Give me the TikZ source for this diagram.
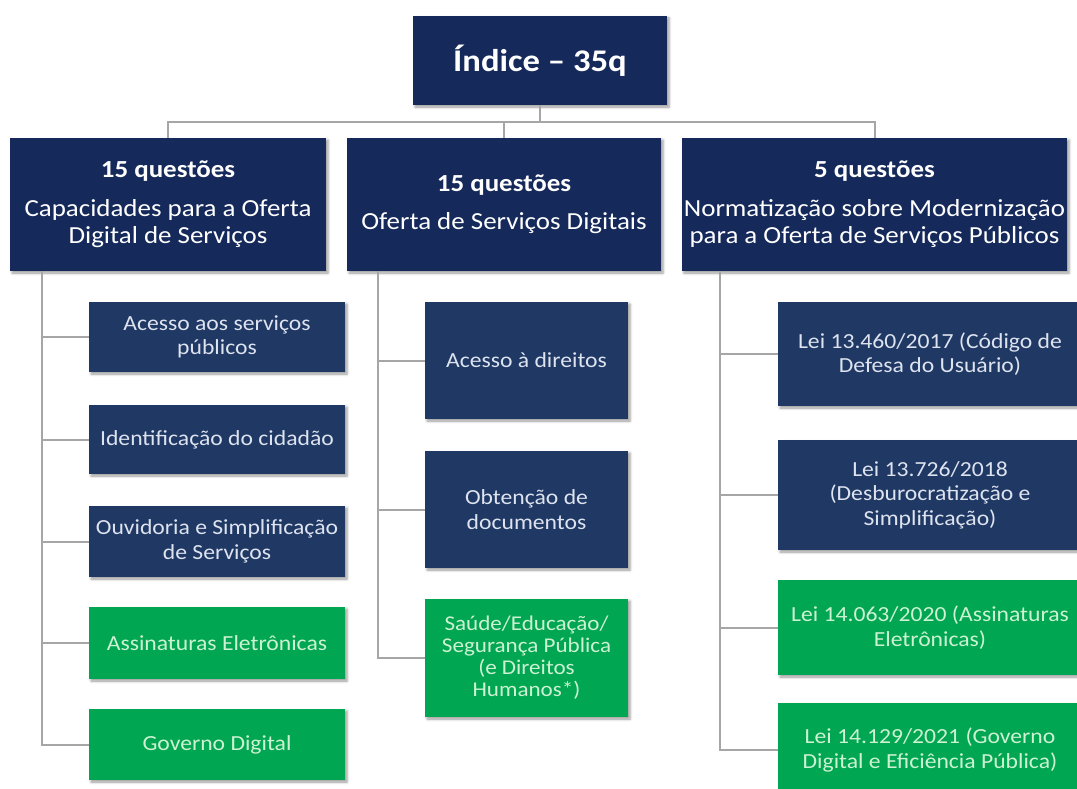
\documentclass[tikz,border=0pt]{standalone}
\usepackage{fontspec}
\setmainfont[FakeStretch=1.1]{Carlito}
\usepackage{tikz}
\usetikzlibrary{positioning,calc,shadows.blur}

\definecolor{navytop}{HTML}{15295A}
\definecolor{navybox}{HTML}{203864}
\definecolor{greenbox}{HTML}{00A651}
\definecolor{navytxt}{HTML}{DDE3EF}
\definecolor{greentxt}{HTML}{CDF2D2}
\definecolor{linegray}{HTML}{A6A6A6}

\begin{document}
\begin{tikzpicture}[x=1pt, y=-1pt,
    box/.style={rectangle, inner sep=2pt, align=center,
        blur shadow={shadow xshift=2pt, shadow yshift=-2pt, shadow blur radius=2.5pt, shadow opacity=40}},
    headbox/.style={box, fill=navytop, text=white, font=\fontsize{24.5}{27}\selectfont, minimum height=133pt},
    navyitem/.style={box, fill=navybox, text=navytxt, font=\fontsize{21.5}{24.5}\selectfont},
    greenitem/.style={box, fill=greenbox, text=greentxt, font=\fontsize{21.5}{24.5}\selectfont},
    conn/.style={draw=linegray, line width=2pt}]
    \clip (0,0) rectangle (1077,789);

    % index
    \node[box, fill=navytop, text=white, font=\bfseries\fontsize{31.5}{36}\selectfont,
        minimum width=254pt, minimum height=89pt] (idx) at (540,60.5) {Índice – 35q};

    % the three groups
    \node[headbox, minimum width=316pt] (cap) at (168,204.5)
        {\textbf{15 questões}\\[12pt]Capacidades para a Oferta\\Digital de Serviços};
    \node[headbox, minimum width=314pt] (ofe) at (504,204.5)
        {\textbf{15 questões}\\[11pt]Oferta de Serviços Digitais};
    \node[headbox, minimum width=385pt] (nor) at (874.5,204.5)
        {\textbf{5 questões}\\[12pt]Normatização sobre Modernização\\para a Oferta de Serviços Públicos};

    \coordinate (bus) at ($(idx.south)+(0,17)$);
    \draw[conn] (idx.south) -- (bus);
    \draw[conn] (cap.north) |- (bus) -| (nor.north);
    \draw[conn] (ofe.north) -- (ofe.north |- bus);

    % Capacidades
    \node[navyitem, minimum width=256pt, minimum height=70pt] (l1) at (217,337) {Acesso aos serviços\\públicos};
    \node[navyitem, minimum width=256pt, minimum height=69pt] (l2) at (217,439.5) {Identificação do cidadão};
    \node[navyitem, minimum width=256pt, minimum height=71pt] (l3) at (217,541.5) {Ouvidoria e Simplificação\\de Serviços};
    \node[greenitem, minimum width=256pt, minimum height=72pt] (l4) at (217,643) {Assinaturas Eletrônicas};
    \node[greenitem, minimum width=256pt, minimum height=71pt] (l5) at (217,744.5) {Governo Digital};

    % Oferta
    \node[navyitem, minimum width=203pt, minimum height=117pt] (m1) at (526.5,360.5) {Acesso à direitos};
    \node[navyitem, minimum width=203pt, minimum height=117pt] (m2) at (526.5,509.5) {Obtenção de\\documentos};
    \node[greenitem, minimum width=203pt, minimum height=118pt, font=\fontsize{21}{22}\selectfont]
        (m3) at (526.5,658) {Saúde/Educação/\\Segurança Pública\\(e Direitos\\Humanos*)};

    % Normatizacao
    \node[navyitem, minimum width=304pt, minimum height=104pt] (r1) at (930,354) {Lei 13.460/2017 (Código de\\Defesa do Usuário)};
    \node[navyitem, minimum width=304pt, minimum height=110pt] (r2) at (930,495) {Lei 13.726/2018\\(Desburocratização e\\Simplificação)};
    \node[greenitem, minimum width=304pt, minimum height=95pt] (r3) at (930,627.5) {Lei 14.063/2020 (Assinaturas\\Eletrônicas)};
    \node[greenitem, minimum width=304pt, minimum height=94pt] (r4) at (930,750) {Lei 14.129/2021 (Governo\\Digital e Eficiência Pública)};

    % trunks
    \coordinate (lt) at ($(cap.south west)+(32,0)$);
    \coordinate (mt) at ($(ofe.south west)+(31,0)$);
    \coordinate (rt) at ($(nor.south west)+(38,0)$);
    \foreach \c in {l1,l2,l3,l4,l5}
        \draw[conn] (lt) |- (\c.west);
    \foreach \c in {m1,m2,m3}
        \draw[conn] (mt) |- (\c.west);
    \foreach \c in {r1,r2,r3,r4}
        \draw[conn] (rt) |- (\c.west);
\end{tikzpicture}
\end{document}
